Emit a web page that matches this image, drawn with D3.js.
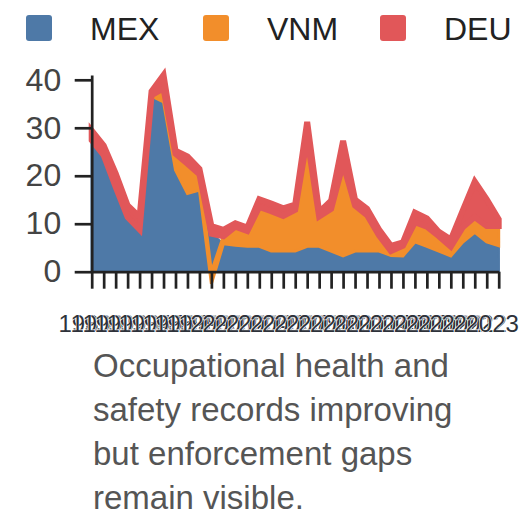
<!DOCTYPE html>
<html>
<head>
<meta charset="utf-8">
<script src="https://cdn.jsdelivr.net/npm/d3@7"></script>
<style>
  body { margin: 0; background: #fff; }
  svg { display: block; font-family: "Liberation Sans", Arial, sans-serif; }
</style>
</head>
<body>
<div id="chart"></div>
<script>
var years = [1989, 1990, 1991, 1992, 1993, 1994, 1995, 1996, 1997, 1998,
             1999, 2000, 2001, 2002, 2003, 2004, 2005, 2006, 2007, 2008,
             2009, 2010, 2011, 2012, 2013, 2014, 2015, 2016, 2017, 2018,
             2019, 2020, 2021, 2022, 2023];
var mex = [27.2, 24.1, 17.5, 11.2, 8.6, 36.6, 35.4, 21.2, 16.3, 17.0,
           7.9, 5.8, 5.5, 5.3, 5.3, 4.3, 4.3, 4.3, 5.3, 5.3,
           4.3, 3.3, 4.3, 4.3, 4.3, 3.4, 3.3, 6.2, 5.3, 4.3,
           3.3, 6.2, 8.2, 6.2, 5.4];
var vnm = [0.2, 0.2, 0.2, 0.2, 0.2, 0.2, 2.8, 3.4, 6.2, 3.3,
           -2.5, 1.6, 3.9, 3.2, 8.2, 8.3, 7.3, 8.6, 22.6, 6.2,
           8.8, 19.2, 9.5, 7.5, 3.3, 0.9, 2.1, 4.1, 4.1, 3.1,
           1.9, 3.1, 3.2, 3.3, 4.1];
var deu = [2.0, 2.0, 2.8, 2.4, 2.6, 0.8, 2.8, 0.6, 1.5, 1.1,
           1.6, 1.3, 0.7, 0.7, 1.6, 1.6, 1.6, 1.1, 3.3, 0.9,
           1.7, 4.8, 1.2, 1.3, 1.2, 1.1, 0.7, 2.0, 1.7, 0.9,
           1.5, 3.5, 7.4, 5.6, 1.4];
var keys = ["MEX", "VNM", "DEU"];
var colors = ["#4e79a7", "#f28e2b", "#e15759"];
var strokeWidths = [2.5, 3, 6];
var yTicks = [0, 10, 20, 30, 40];
var caption = ["Occupational health and", "safety records improving",
               "but enforcement gaps", "remain visible."];

var width = 528, height = 528;
var plotLeft = 91.7, plotRight = 498.7, plotTop = 75, plotBottom = 271.7;

var rows = years.map(function(yr, i) {
  return { year: yr, MEX: mex[i], VNM: vnm[i], DEU: deu[i] };
});

var series = d3.stack().keys(keys).offset(d3.stackOffsetDiverging)(rows);
var yMax = d3.max(series[series.length - 1], function(d) { return d[1]; });

var x = d3.scaleLinear().domain([years[0], years[years.length - 1]]).range([plotLeft, plotRight]);
var y = d3.scaleLinear().domain([0, yMax]).range([plotBottom, plotTop]);

var svg = d3.select("#chart").append("svg")
  .attr("width", width)
  .attr("height", height);

var area = d3.area()
  .x(function(d) { return x(d.data.year); })
  .y0(function(d) { return y(d[0]); })
  .y1(function(d) { return y(d[1]); });

svg.selectAll("path.layer")
  .data(series)
  .enter()
  .append("path")
  .attr("class", "layer")
  .attr("d", area)
  .attr("fill", function(d, i) { return colors[i]; })
  .attr("stroke", function(d, i) { return colors[i]; })
  .attr("stroke-width", function(d, i) { return strokeWidths[i]; });

// x axis
var xAxis = svg.append("g")
  .attr("transform", "translate(0," + plotBottom + ")")
  .call(d3.axisBottom(x).tickValues(years).tickFormat(d3.format("d"))
    .tickSize(17).tickSizeOuter(0).tickPadding(26));
xAxis.select(".domain").attr("stroke", "#222").attr("stroke-width", 2.7);
xAxis.selectAll(".tick line").attr("stroke", "#222").attr("stroke-width", 2.7);
xAxis.selectAll(".tick text")
  .attr("font-size", 24)
  .attr("font-family", "Liberation Sans, Arial, sans-serif")
  .attr("dx", -7)
  .attr("fill", "#2e323a")
  .attr("stroke", "#fff")
  .attr("stroke-width", 1.2)
  .attr("paint-order", "stroke");

// y axis
var yAxis = svg.append("g")
  .attr("transform", "translate(" + plotLeft + ",0)")
  .call(d3.axisLeft(y).tickValues(yTicks).tickSize(17).tickSizeOuter(0).tickPadding(13.5));
yAxis.select(".domain").attr("stroke", "#222").attr("stroke-width", 2.7);
yAxis.selectAll(".tick line").attr("stroke", "#222").attr("stroke-width", 2.7);
yAxis.selectAll(".tick text")
  .attr("font-size", 32)
  .attr("font-family", "Liberation Sans, Arial, sans-serif")
  .attr("fill", "#444");

// legend
var legend = svg.selectAll("g.legend")
  .data(keys)
  .enter()
  .append("g")
  .attr("class", "legend")
  .attr("transform", function(d, i) { return "translate(" + (26 + i * 177) + ",15)"; });

legend.append("rect")
  .attr("width", 26)
  .attr("height", 26)
  .attr("rx", 3)
  .attr("fill", function(d, i) { return colors[i]; });

legend.append("text")
  .attr("x", 64)
  .attr("y", 25)
  .attr("font-size", 32)
  .attr("fill", "#222")
  .text(function(d) { return d; });

// caption
svg.append("text")
  .attr("x", 93)
  .attr("y", 377)
  .attr("font-size", 33)
  .attr("fill", "#555")
  .selectAll("tspan")
  .data(caption)
  .enter()
  .append("tspan")
  .attr("x", 93)
  .attr("dy", function(d, i) { return i === 0 ? 0 : 44; })
  .text(function(d) { return d; });
</script>
</body>
</html>
